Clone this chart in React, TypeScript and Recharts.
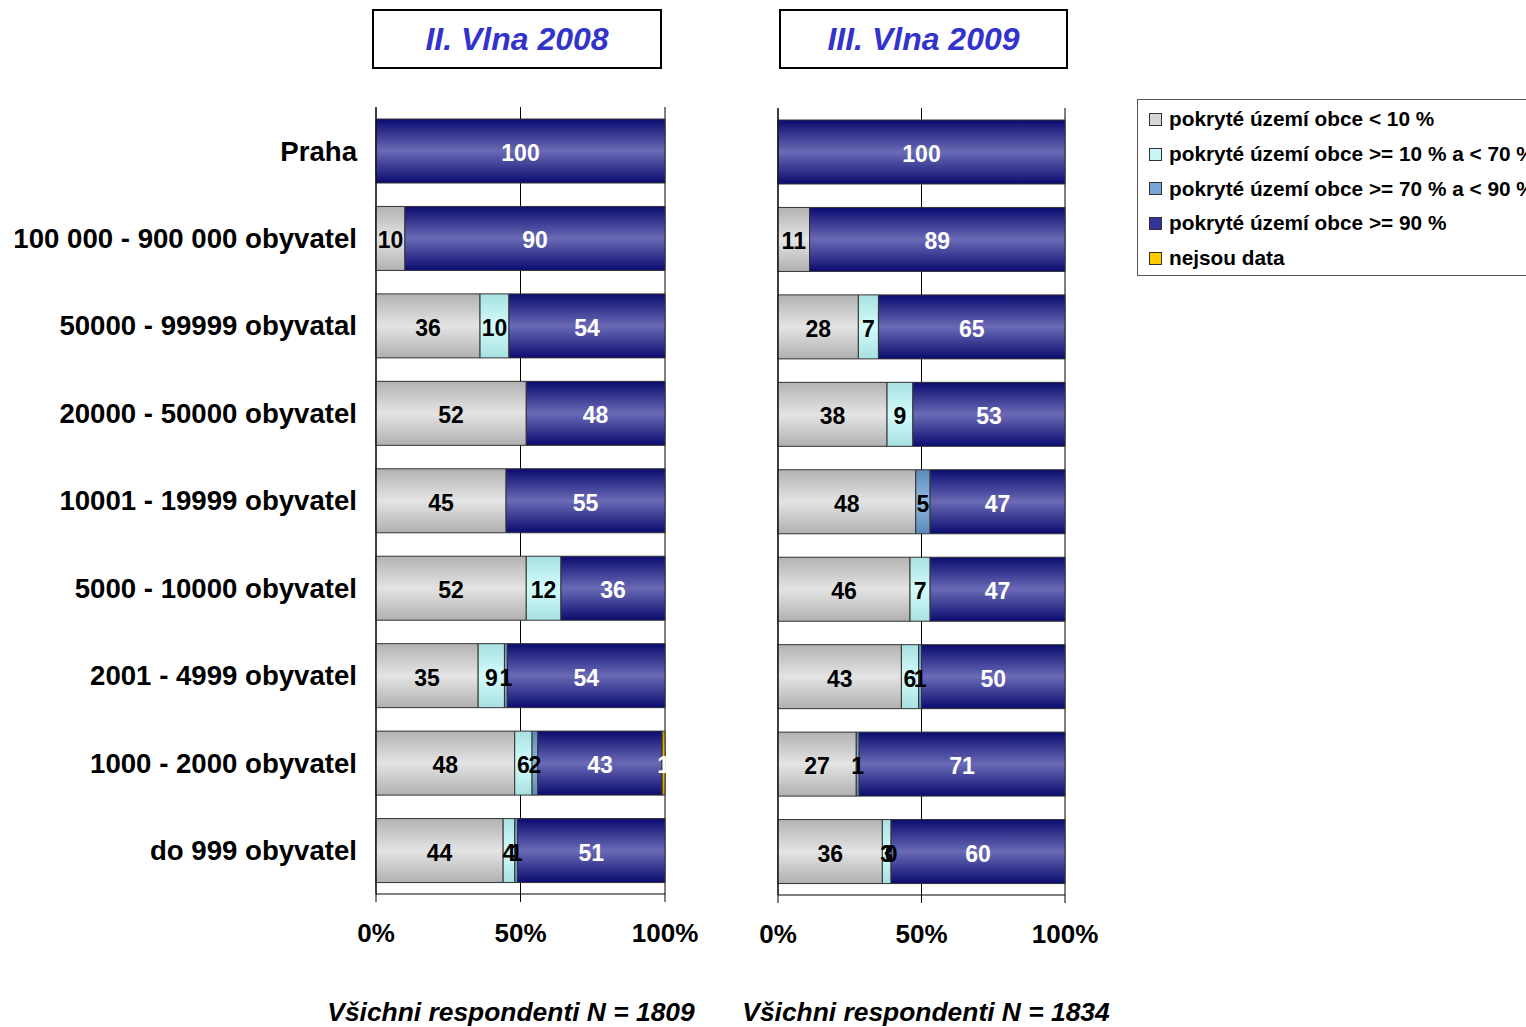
import React from 'react';
import { BarChart, Bar, XAxis, YAxis, CartesianGrid, LabelList, Legend } from 'recharts';

const categories = [
  'Praha',
  '100 000 - 900 000 obyvatel',
  '50000 - 99999 obyvatal',
  '20000 - 50000 obyvatel',
  '10001 - 19999 obyvatel',
  '5000 - 10000 obyvatel',
  '2001 - 4999 obyvatel',
  '1000 - 2000 obyvatel',
  'do 999 obyvatel',
];

// II. vlna 2008
const under10_2008 = [null, 10, 36, 52, 45, 52, 35, 48, 44];
const from10to70_2008 = [null, null, 10, null, null, 12, 9, 6, 4];
const from70to90_2008 = [null, null, null, null, null, null, 1, 2, 1];
const over90_2008 = [100, 90, 54, 48, 55, 36, 54, 43, 51];
const noData_2008 = [null, null, null, null, null, null, null, 1, null];

// III. vlna 2009
const under10_2009 = [null, 11, 28, 38, 48, 46, 43, 27, 36];
const from10to70_2009 = [null, null, 7, 9, null, 7, 6, null, 3];
const from70to90_2009 = [null, null, null, null, 5, null, 1, 1, 0];
const over90_2009 = [100, 89, 65, 53, 47, 47, 50, 71, 60];
const noData_2009 = [null, null, null, null, null, null, null, null, null];

const seriesNames = [
  'pokryté území obce < 10 %',
  'pokryté území obce >= 10 % a < 70 %',
  'pokryté území obce >= 70 % a < 90 %',
  'pokryté území obce >= 90 %',
  'nejsou data',
];

const seriesKeys = ['s0', 's1', 's2', 's3', 's4'];
const legendColors = ['#d6d6d6', '#c8f6f6', '#7aa6d6', '#333399', '#ffcc00'];
const labelColors = ['#000', '#000', '#000', '#fff', '#fff'];
const gradients = [
  ['#b2b2b2', '#e4e4e4', '#b0b0b0'],
  ['#a8e0e0', '#d4fcfc', '#a8e0e0'],
  ['#5a88b8', '#92bbe2', '#5a88b8'],
  ['#0b0b70', '#6a6ab6', '#0b0b70'],
  ['#c89a00', '#ffcc00', '#c89a00'],
];

const FONT = '"Liberation Sans", Arial, sans-serif';

const buildRows = (cols: (number | null)[][]) =>
  categories.map((name, i) => {
    const row: Record<string, any> = { name };
    cols.forEach((c, k) => (row[seriesKeys[k]] = c[i]));
    return row;
  });

const data2008 = buildRows([under10_2008, from10to70_2008, from70to90_2008, over90_2008, noData_2008]);
const data2009 = buildRows([under10_2009, from10to70_2009, from70to90_2009, over90_2009, noData_2009]);

const valueText = (x: number, y: number, color: string, value: any, key: string) => (
  <text
    key={key}
    x={x}
    y={y}
    dy={2}
    textAnchor="middle"
    dominantBaseline="central"
    fill={color}
    fontSize={23}
    fontWeight="bold"
    fontFamily={FONT}
  >
    {value}
  </text>
);

// zero-width segments get no rectangle of their own, so their "0" label is
// drawn at the left edge of the next segment that has a value
const segLabel = (rows: any[], si: number) => (props: any) => {
  const { x, y, width, height, value, index } = props;
  if (value === null || value === undefined) return null;
  const cy = Number(y) + Number(height) / 2;
  const out = [valueText(Number(x) + Number(width) / 2, cy, labelColors[si], value, 'v')];
  const row = rows[index];
  for (let k = si - 1; k >= 0; k--) {
    const v = row ? row[seriesKeys[k]] : null;
    if (v === 0) out.unshift(valueText(Number(x), cy, labelColors[k], 0, `z${k}`));
    else if (v !== null && v !== undefined) break;
  }
  return <g>{out}</g>;
};

const LegendBox = () => (
  <div
    style={{
      border: '1px solid #555',
      width: 420,
      height: 177,
      boxSizing: 'border-box',
      paddingTop: 2,
      background: '#fff',
      fontFamily: FONT,
    }}
  >
    {seriesNames.map((n, i) => (
      <div key={n} style={{ display: 'flex', alignItems: 'center', height: 34.7, paddingLeft: 11 }}>
        <span
          style={{
            display: 'inline-block',
            width: 11,
            height: 11,
            border: '1px solid #333',
            background: legendColors[i],
            marginRight: 7,
          }}
        />
        <span style={{ fontSize: 20.8, fontWeight: 'bold', color: '#000', whiteSpace: 'nowrap' }}>{n}</span>
      </div>
    ))}
  </div>
);

const WaveChart = ({ id, data, showCats, width, margin, yWidth, legend }: any) => (
  <BarChart
    width={width}
    height={960}
    data={data}
    layout="vertical"
    stackOffset="expand"
    margin={margin}
  >
    <defs>
      {gradients.map((g, i) => (
        <linearGradient key={i} id={`${id}g${i}`} x1="0" y1="0" x2="0" y2="1">
          <stop offset="0%" stopColor={g[0]} />
          <stop offset="50%" stopColor={g[1]} />
          <stop offset="100%" stopColor={g[2]} />
        </linearGradient>
      ))}
    </defs>
    <CartesianGrid xAxisId="b" yAxisId="cat" horizontal={false} stroke="#000" strokeWidth={1} />
    <XAxis
      xAxisId="b"
      type="number"
      domain={[0, 1]}
      ticks={[0, 0.5, 1]}
      tickFormatter={(v: number) => `${Math.round(v * 100)}%`}
      axisLine={{ stroke: '#000' }}
      tickLine={{ stroke: '#000' }}
      tickSize={8}
      tickMargin={22}
      height={60}
      tick={{ fill: '#000', fontSize: 26, fontWeight: 'bold', fontFamily: FONT }}
    />
    <XAxis
      xAxisId="t"
      orientation="top"
      type="number"
      domain={[0, 1]}
      tick={false}
      tickLine={false}
      axisLine={{ stroke: '#000' }}
      height={0}
    />
    <YAxis
      yAxisId="cat"
      type="category"
      dataKey="name"
      width={yWidth}
      axisLine={{ stroke: '#000' }}
      tickLine={false}
      tickSize={0}
      tickMargin={19}
      interval={0}
      tick={showCats ? { fill: '#000', fontSize: 27.6, fontWeight: 'bold', fontFamily: FONT } : false}
    />
    <YAxis
      yAxisId="edge"
      type="number"
      domain={[0, categories.length]}
      ticks={categories.map((_, i) => i).concat([categories.length])}
      width={0}
      axisLine={false}
      tick={false}
      tickLine={{ stroke: '#000' }}
      tickSize={6}
    />
    {seriesKeys.map((k, i) => (
      <Bar
        key={k}
        dataKey={k}
        name={seriesNames[i]}
        stackId="a"
        xAxisId="b"
        yAxisId="cat"
        barSize={64}
        fill={`url(#${id}g${i})`}
        stroke="#333"
        strokeWidth={1}
        isAnimationActive={false}
      >
        <LabelList dataKey={k} content={segLabel(data, i)} />
      </Bar>
    ))}
    {legend && (
      <Legend
        layout="vertical"
        align="center"
        verticalAlign="middle"
        content={() => <LegendBox />}
        wrapperStyle={{ position: 'absolute', left: legend.left, top: legend.top, width: 420 }}
      />
    )}
  </BarChart>
);

const titleStyle: React.CSSProperties = {
  position: 'absolute',
  top: 9,
  height: 60,
  boxSizing: 'border-box',
  border: '2px solid #000',
  display: 'flex',
  alignItems: 'center',
  justifyContent: 'center',
  color: '#3333cc',
  fontSize: 32,
  fontWeight: 'bold',
  fontStyle: 'italic',
  fontFamily: FONT,
  background: '#fff',
};

const footStyle: React.CSSProperties = {
  position: 'absolute',
  top: 997,
  fontSize: 26.4,
  fontWeight: 'bold',
  fontStyle: 'italic',
  fontFamily: FONT,
  color: '#000',
  whiteSpace: 'nowrap',
  transform: 'translateX(-50%)',
};

export default function App() {
  return (
    <div
      style={{
        position: 'absolute',
        left: 0,
        top: 0,
        width: 1526,
        height: 1027,
        overflow: 'hidden',
        background: '#fff',
        fontFamily: FONT,
      }}
    >
      <div style={{ position: 'absolute', left: 0, top: 0 }}>
        <WaveChart
          id="w8"
          data={data2008}
          showCats
          width={700}
          yWidth={376}
          margin={{ top: 107, right: 35, bottom: 6, left: 0 }}
        />
      </div>
      <div style={{ position: 'absolute', left: 700, top: 0 }}>
        <WaveChart
          id="w9"
          data={data2009}
          showCats={false}
          width={826}
          yWidth={1}
          margin={{ top: 108, right: 461, bottom: 5, left: 77 }}
          legend={{ left: 437, top: 99 }}
        />
      </div>
      <div style={{ ...titleStyle, left: 372, width: 290 }}>II. Vlna 2008</div>
      <div style={{ ...titleStyle, left: 779, width: 289 }}>III. Vlna 2009</div>
      <div style={{ ...footStyle, left: 511 }}>Všichni respondenti N = 1809</div>
      <div style={{ ...footStyle, left: 926 }}>Všichni respondenti N = 1834</div>
    </div>
  );
}
